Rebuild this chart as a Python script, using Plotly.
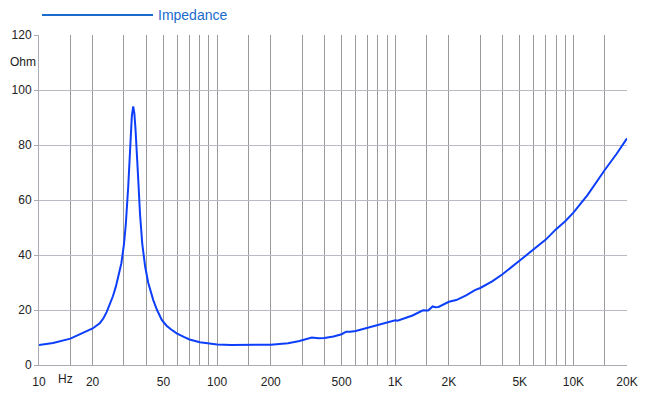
import plotly.graph_objects as go
import math

freq_hz = [10, 12, 15, 18, 20, 22, 23, 24, 25, 26, 27, 28, 29, 30, 30.7, 31.7, 32.3, 32.7, 33.2, 33.8,
           34.3, 34.8, 35.4, 36.1, 36.9, 38, 39.4, 41, 43.8, 46, 48.9, 52, 55, 59.3, 65, 70, 80, 90,
           100, 120, 150, 160, 180, 200,
           250, 290, 320, 340, 370, 400, 450, 500, 530, 560, 600, 700, 800, 900, 960, 1000,
           1030, 1100, 1250, 1430, 1530, 1620, 1680, 1750, 2000, 2200, 2500, 2800, 3000, 3500,
           4000, 5000, 6000, 7000, 8000, 9000, 10000, 12000, 15000, 17500, 20000]
impedance_ohm = [7.3, 8.0, 9.6, 11.8, 13.3, 15.3, 17.0, 19.3, 22.0, 25.0, 28.5, 32.5, 37.0, 44.0, 51.0, 65.0, 76.0, 84.0, 90.5, 94.0,
                 91.5, 86.0, 79.0, 67.0, 55.0, 44.0, 36.0, 30.0, 23.6, 20.0, 16.4, 14.3, 13.0, 11.5, 10.2, 9.3, 8.3, 7.8,
                 7.5, 7.3, 7.4, 7.6, 7.4, 7.4,
                 7.9, 8.7, 9.6, 10.0, 9.7, 9.8, 10.4, 11.2, 12.1, 12.1, 12.4, 13.5, 14.6, 15.5, 15.8, 16.3,
                 16.1, 16.7, 18.0, 19.9, 19.8, 21.3, 21.0, 21.1, 23.0, 23.6, 25.3, 27.2, 28.0, 30.4,
                 33.0, 38.0, 42.0, 45.6, 49.4, 52.3, 55.4, 61.8, 70.9, 76.8, 82.4]

x_label_vals = [10, 20, 50, 100, 200, 500, 1000, 2000, 5000, 10000, 20000]
x_label_text = ["10", "20", "50", "100", "200", "500", "1K", "2K", "5K", "10K", "20K"]
x_grid_vals = [10, 15, 20, 30, 40, 50, 60, 70, 80, 90, 100, 150, 200, 300, 400, 500, 600, 700,
               800, 900, 1000, 1500, 2000, 3000, 4000, 5000, 6000, 7000, 8000, 9000, 10000,
               15000, 20000]
y_tick_vals = [0, 20, 40, 60, 80, 100, 120]

series_name = "Impedance"
unit_x = "Hz"
unit_y = "Ohm"

curve_color = "#0d3ffb"
legend_color = "#1a6bcc"
font_family = "Liberation Sans, Arial, sans-serif"

# page has an 8px body margin; size the figure so it fits the 650x395 window
W, H = 642, 387
ML, MR, MT, MB = 31, 23, 27, 30
PW, PH = W - ML - MR, H - MT - MB

fig = go.Figure()
fig.add_trace(go.Scatter(x=freq_hz, y=impedance_ohm, mode="lines",
                         line=dict(color=curve_color, width=2), name=series_name,
                         showlegend=False, hoverinfo="x+y"))

fig.update_layout(
    width=W, height=H,
    margin=dict(l=ML, r=MR, t=MT, b=MB, autoexpand=False),
    paper_bgcolor="white", plot_bgcolor="white",
    font=dict(family=font_family, size=12, color="#222222"),
    xaxis=dict(type="log", range=[1, math.log10(20000)],
               tickvals=x_label_vals, ticktext=x_label_text,
               showgrid=True, gridcolor="#9a9a9a", gridwidth=1,
               minor=dict(tickvals=x_grid_vals, showgrid=True, gridcolor="#9a9a9a", gridwidth=1, ticks=""),
               ticks="", ticklabelstandoff=6,
               showline=True, linecolor="#a8abb2", linewidth=1,
               zeroline=False, tickfont=dict(size=12, color="#222222")),
    yaxis=dict(range=[0, 120], tickvals=y_tick_vals,
               showgrid=True, gridcolor="#b8bbc2", gridwidth=1,
               ticks="outside", ticklen=4, tickcolor="#a8abb2",
               showline=True, linecolor="#a8abb2", linewidth=1,
               zeroline=False, tickfont=dict(size=12, color="#222222")),
)

# positions below are in page pixels of the reference; convert to paper coords
def px(xp):
    return (xp - 8 - ML) / PW

def py(yp):
    return (H - MB - (yp - 8)) / PH

fig.add_shape(type="line", xref="paper", yref="paper",
              x0=px(42), x1=px(153), y0=py(15), y1=py(15),
              line=dict(color=legend_color, width=2))
fig.add_annotation(xref="paper", yref="paper", x=px(156), y=py(15),
                   text=series_name, showarrow=False, xanchor="left", yanchor="middle",
                   font=dict(size=14, color=legend_color, family=font_family))
fig.add_annotation(xref="paper", yref="paper", x=px(8), y=py(62),
                   text=unit_y, showarrow=False, xanchor="left", yanchor="middle",
                   font=dict(size=12, color="#222222"))
fig.add_annotation(xref="x", yref="paper", x=math.log10(14.0), y=py(379),
                   text=unit_x, showarrow=False, xanchor="center", yanchor="middle",
                   font=dict(size=12, color="#222222"))

fig.write_html("out.html")
